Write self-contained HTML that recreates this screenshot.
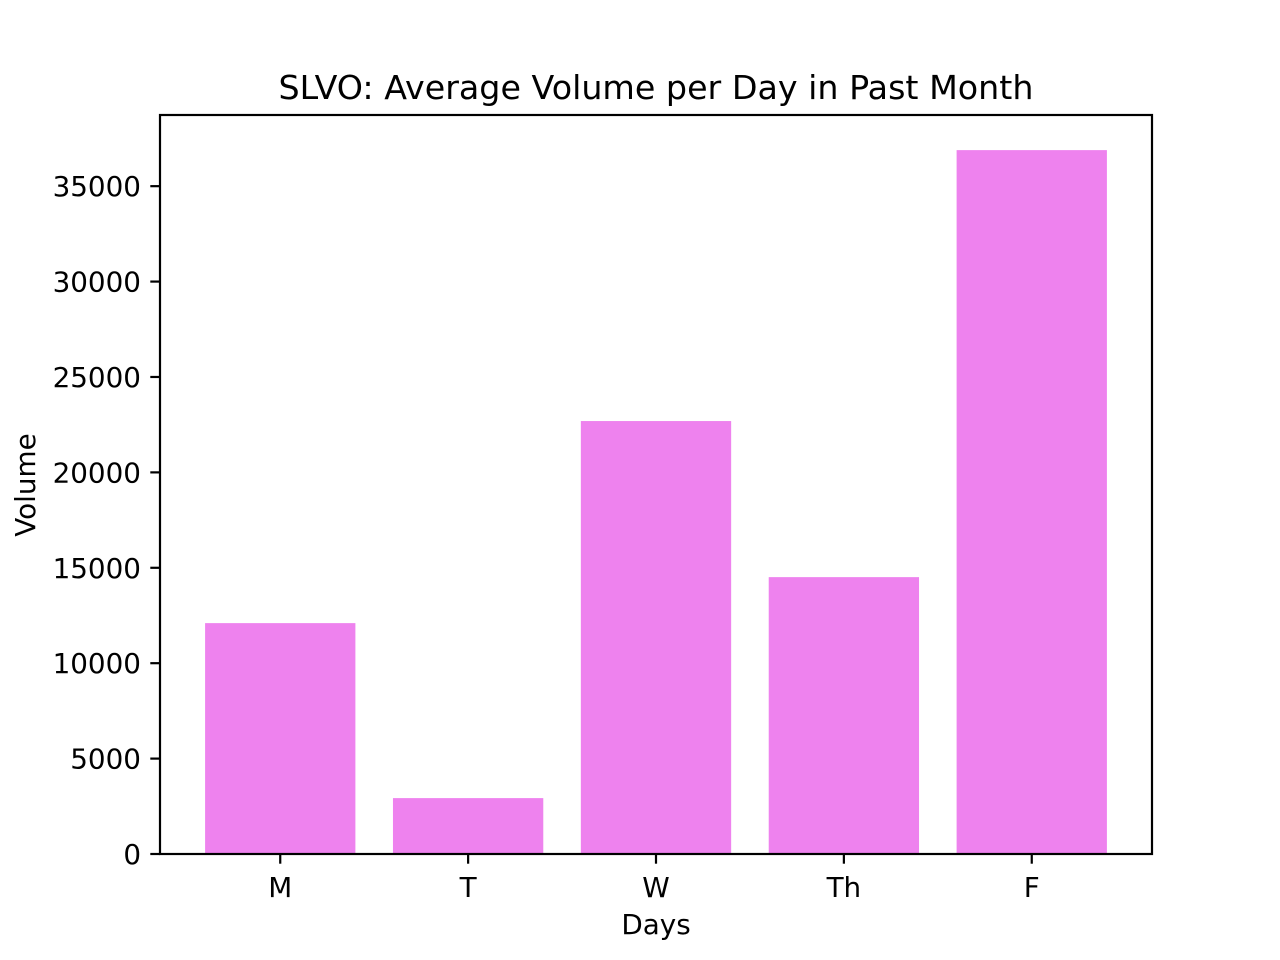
<!DOCTYPE html>
<html><head><meta charset="utf-8"><style>body{margin:0;background:#fff}svg{display:block}text{font-family:"DejaVu Sans","Liberation Sans",sans-serif;fill:#000}</style></head>
<body>
<svg id="chart" width="1280" height="960" xmlns="http://www.w3.org/2000/svg">
<rect width="1280" height="960" fill="#fff"/>
<text x="656" y="99" font-size="33.3" text-anchor="middle">SLVO: Average Volume per Day in Past Month</text>
<text x="656" y="934" font-size="27.8" text-anchor="middle">Days</text>
<text transform="translate(35,485) rotate(-90)" font-size="27.8" text-anchor="middle">Volume</text>
<g id="bars"></g><g id="ticks"></g>
<rect x="160" y="115" width="992" height="739" fill="none" stroke="#000" stroke-width="2.2"/>
</svg>
<script>
const categories = ["M","T","W","Th","F"];
const volumes = [12100, 2930, 22690, 14510, 36890];
const yTicks = [0,5000,10000,15000,20000,25000,30000,35000];
const L=160,R=1152,T=115,B=854;
const xmin=-0.64, xmax=4.64, ymax=38730;
const xs=v=>L+(v-xmin)/(xmax-xmin)*(R-L);
const ys=v=>B-v/ymax*(B-T);
const NS="http://www.w3.org/2000/svg";
const bars=document.getElementById('bars'), ticks=document.getElementById('ticks');
function mk(tag,attrs,parent){const e=document.createElementNS(NS,tag);for(const k in attrs)e.setAttribute(k,attrs[k]);parent.appendChild(e);return e;}
categories.forEach((c,i)=>{
  const r=mk('rect',{x:xs(i-0.4),y:ys(volumes[i]),width:xs(i+0.4)-xs(i-0.4),height:B-ys(volumes[i]),fill:'#EE82EE'},bars);
  
  
  const t=mk('line',{x1:xs(i),x2:xs(i),y1:B,y2:B+9.7,stroke:'#000','stroke-width':2.2},ticks);
  
  
  const l=mk('text',{x:xs(i),y:897,'font-size':27.8,'text-anchor':'middle'},ticks);
  l.textContent=c;
  
  
});
yTicks.forEach(v=>{
  const t=mk('line',{x1:L-9.7,x2:L,y1:ys(v),y2:ys(v),stroke:'#000','stroke-width':2.2},ticks);
  
  
  const l=mk('text',{x:141,y:ys(v)+10,'font-size':27.8,'text-anchor':'end'},ticks);
  l.textContent=v;
  
  
});
</script>
</body></html>
